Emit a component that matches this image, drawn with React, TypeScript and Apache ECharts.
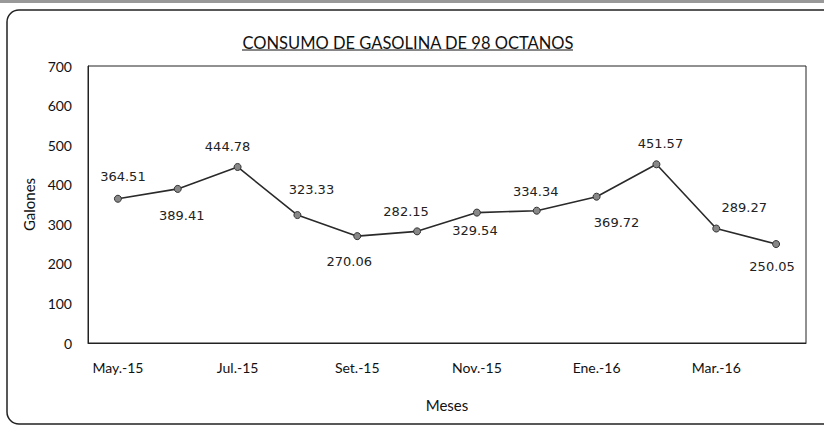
import React, { useEffect, useRef } from "react";
import * as echarts from "echarts";

const months = ["May.-15", "Jun.-15", "Jul.-15", "Ago.-15", "Set.-15", "Oct.-15", "Nov.-15", "Dic.-15", "Ene.-16", "Feb.-16", "Mar.-16", "Abr.-16"];
const galones = [364.51, 389.41, 444.78, 323.33, 270.06, 282.15, 329.54, 334.34, 369.72, 451.57, 289.27, 250.05];
const labelOffsets: [number, number][] = [
  [5, -22], [4, 27], [-10, -20], [14, -26], [-8, 25], [-11, -20],
  [-2, 18], [-1, -19], [20, 26], [4, -21], [28, -21], [-4, 22],
];
const yTicks = { min: 0, max: 700, interval: 100 };
const titleText = "CONSUMO DE GASOLINA DE 98 OCTANOS";

export default function App() {
  const ref = useRef<HTMLDivElement>(null);
  useEffect(() => {
    if (!ref.current) return;
    const chart = echarts.init(ref.current, null, { renderer: "svg" });
    const axisFont = "Lato, 'Open Sans', sans-serif";
    chart.setOption({
      animation: false,
      backgroundColor: "#ffffff",
      title: {
        text: titleText,
        left: 403,
        textAlign: "center",
        top: 29,
        textStyle: { fontFamily: axisFont, fontSize: 16.5, fontWeight: "normal", color: "#111" },
      },
      graphic: [
        {
          type: "rect",
          shape: { x: 7, y: 10, width: 830, height: 414, r: 12 },
          style: { fill: "none", stroke: "#222", lineWidth: 1.5 },
        },
        {
          type: "line",
          shape: { x1: 0, y1: 1.5, x2: 824, y2: 1.5 },
          style: { stroke: "#999", lineWidth: 3 },
        },
        {
          type: "line",
          shape: { x1: 242, y1: 50, x2: 573, y2: 50 },
          style: { stroke: "#111", lineWidth: 1.2 },
        },
      ],
      grid: {
        left: 88, right: 18, top: 66, bottom: 85,
        show: true, borderColor: "#222", borderWidth: 1,
      },
      xAxis: {
        type: "category",
        data: months,
        boundaryGap: true,
        name: "Meses",
        nameLocation: "middle",
        nameGap: 54,
        nameTextStyle: { fontFamily: axisFont, fontSize: 15, color: "#111" },
        axisLine: { lineStyle: { color: "#222", width: 1 } },
        axisTick: { show: false },
        axisLabel: { interval: 1, margin: 17, fontFamily: axisFont, fontSize: 14, color: "#111" },
        splitLine: { show: false },
      },
      yAxis: {
        type: "value",
        min: yTicks.min,
        max: yTicks.max,
        interval: yTicks.interval,
        name: "Galones",
        nameLocation: "middle",
        nameGap: 44,
        nameRotate: 90,
        nameTextStyle: { fontFamily: axisFont, fontSize: 15, color: "#111" },
        axisLine: { show: true, lineStyle: { color: "#222", width: 1 } },
        axisTick: { show: false },
        axisLabel: { margin: 16, fontFamily: axisFont, fontSize: 14, color: "#111" },
        splitLine: { show: false },
      },
      series: [
        {
          type: "line",
          data: galones.map((v, i) => ({
            value: v,
            label: { offset: labelOffsets[i] },
          })),
          symbol: "circle",
          symbolSize: 7,
          itemStyle: { color: "#888", borderColor: "#333", borderWidth: 1 },
          lineStyle: { color: "#2a2a2a", width: 1.6 },
          label: {
            show: true,
            position: "inside",
            align: "center",
            verticalAlign: "middle",
            fontFamily: "'DejaVu Sans', Verdana, sans-serif",
            fontSize: 13,
            color: "#222",
            formatter: (p: any) => p.value.toFixed(2),
          },
        },
      ],
    });
    return () => chart.dispose();
  }, []);
  return <div ref={ref} style={{ position: "fixed", left: 0, top: 0, width: 824, height: 428 }} />;
}
